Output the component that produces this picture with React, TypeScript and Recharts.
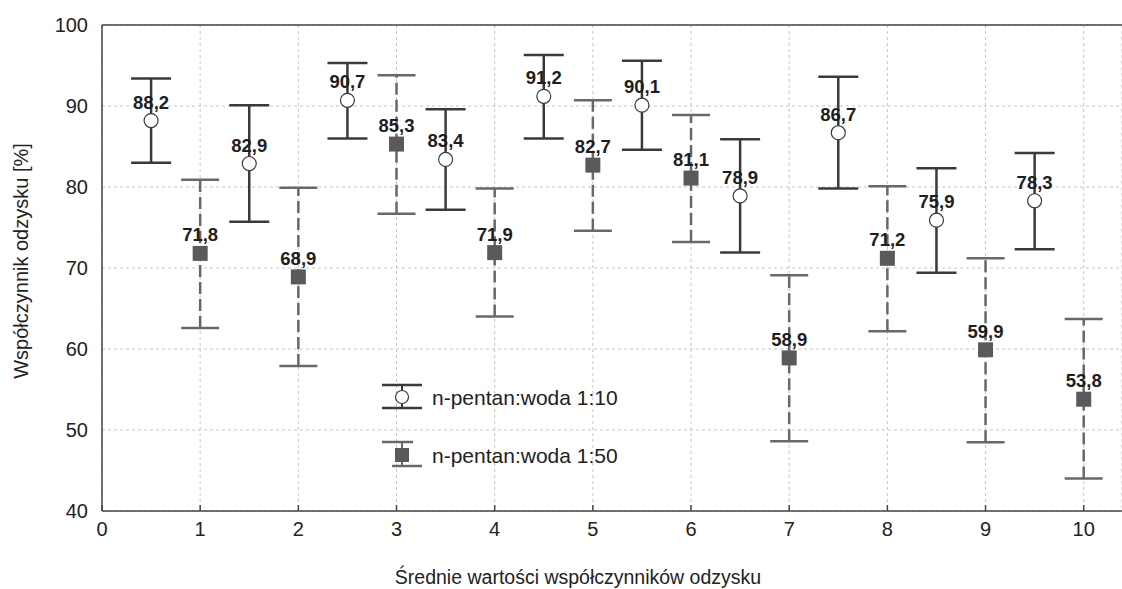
import React from 'react';
import {
  ScatterChart, Scatter, XAxis, YAxis, CartesianGrid, ErrorBar, ReferenceLine, Legend, Label,
} from 'recharts';

// tick labels
const xTicks = [0, 1, 2, 3, 4, 5, 6, 7, 8, 9, 10];
const yTicks = [40, 50, 60, 70, 80, 90, 100];

// n-pentan:woda 1:10 (open circles)
const r10X = [0.5, 1.5, 2.5, 3.5, 4.5, 5.5, 6.5, 7.5, 8.5, 9.5];
const r10Mean = [88.2, 82.9, 90.7, 83.4, 91.2, 90.1, 78.9, 86.7, 75.9, 78.3];
const r10Low = [83.0, 75.7, 86.0, 77.2, 86.0, 84.6, 71.9, 79.8, 69.4, 72.3];
const r10High = [93.4, 90.1, 95.3, 89.6, 96.3, 95.6, 85.9, 93.6, 82.3, 84.2];

// n-pentan:woda 1:50 (filled squares)
const r50X = [1, 2, 3, 4, 5, 6, 7, 8, 9, 10];
const r50Mean = [71.8, 68.9, 85.3, 71.9, 82.7, 81.1, 58.9, 71.2, 59.9, 53.8];
const r50Low = [62.6, 57.9, 76.7, 64.0, 74.6, 73.2, 48.6, 62.2, 48.5, 44.0];
const r50High = [80.9, 79.9, 93.8, 79.8, 90.7, 88.9, 69.1, 80.1, 71.2, 63.7];

const DARK = '#3a3a3a';
const GREY = '#686868';
const FONT = 'Arial, "Liberation Sans", sans-serif';

const r10Data = r10X.map((x, i) => ({
  x, y: r10Mean[i], err: [r10Mean[i] - r10Low[i], r10High[i] - r10Mean[i]],
}));
const r50Data = r50X.map((x, i) => ({
  x, y: r50Mean[i], err: [r50Mean[i] - r50Low[i], r50High[i] - r50Mean[i]],
}));
const r50Caps = r50X.flatMap((x, i) => [{ x, y: r50Low[i] }, { x, y: r50High[i] }]);

const fmt = (v: number) => v.toFixed(1).replace('.', ',');

const ValueLabel = ({ cx, cy, v }: any) => (
  <text x={cx} y={cy - 12} textAnchor="middle" fontFamily={FONT} fontSize={18.5}
    fontWeight="bold" fill="#1e1e1e">{fmt(v)}</text>
);

const CircleShape = (p: any) => (
  <g>
    <circle cx={p.cx} cy={p.cy} r={7} fill="#fff" stroke={DARK} strokeWidth={1.2} />
    <ValueLabel cx={p.cx} cy={p.cy} v={p.payload.y} />
  </g>
);

const SquareShape = (p: any) => (
  <g>
    <rect x={p.cx - 7.5} y={p.cy - 7.5} width={15} height={15} fill="#5a5a5a" />
    <ValueLabel cx={p.cx} cy={p.cy} v={p.payload.y} />
  </g>
);

const CapShape = (p: any) => (
  <line x1={p.cx - 19} x2={p.cx + 19} y1={p.cy} y2={p.cy} stroke={GREY} strokeWidth={2.5} />
);

const Empty = () => <g />;

const LegendBox = () => (
  <svg width={300} height={100} style={{ overflow: 'visible' }}>
    <line x1={4} x2={44} y1={7} y2={7} stroke={DARK} strokeWidth={2.5} />
    <line x1={4} x2={44} y1={30} y2={30} stroke={DARK} strokeWidth={2.5} />
    <line x1={24} x2={24} y1={7} y2={30} stroke={DARK} strokeWidth={2} />
    <circle cx={24} cy={19} r={6.5} fill="#fff" stroke={DARK} strokeWidth={1.2} />
    <text x={54} y={19} dominantBaseline="central" fontFamily={FONT} fontSize={21} fill="#222">n-pentan:woda 1:10</text>
    <line x1={4} x2={35} y1={64} y2={64} stroke={GREY} strokeWidth={2.5} />
    <line x1={14} x2={44} y1={88} y2={88} stroke={GREY} strokeWidth={2.5} />
    <line x1={24} x2={24} y1={64} y2={88} stroke={GREY} strokeWidth={2} />
    <rect x={17} y={70} width={14} height={14} fill="#5a5a5a" />
    <text x={54} y={77} dominantBaseline="central" fontFamily={FONT} fontSize={21} fill="#222">n-pentan:woda 1:50</text>
  </svg>
);

export default function App() {
  return (
    <div style={{ position: 'absolute', left: 0, top: 0, width: 1122, height: 589, overflow: 'hidden', background: '#fff' }}>
      <ScatterChart width={1122} height={589} margin={{ top: 25, right: 0, bottom: 0, left: 0 }}>
        <CartesianGrid strokeDasharray="3 3" stroke="#c6c6c6" />
        <XAxis
          type="number" dataKey="x" domain={[0, 10.39]} ticks={xTicks} allowDataOverflow
          height={78} tickSize={-6} tickMargin={17}
          axisLine={{ stroke: '#444', strokeWidth: 1.5 }} tickLine={{ stroke: '#444', strokeWidth: 1.5 }}
          tick={{ fontSize: 20, fill: '#222', fontFamily: FONT }}
        >
          <Label
            content={({ viewBox }: any) => (
              <text x={viewBox.x + 476} y={viewBox.y + 66} textAnchor="middle" dominantBaseline="central"
                fontFamily={FONT} fontSize={19.5} fill="#222">Średnie wartości współczynników odzysku</text>
            )}
          />
        </XAxis>
        <YAxis
          type="number" dataKey="y" domain={[40, 100]} ticks={yTicks} allowDataOverflow
          width={102} tickSize={0} tickMargin={14}
          axisLine={{ stroke: '#444', strokeWidth: 1.5 }}
          tick={{ fontSize: 20, fill: '#222', fontFamily: FONT }}
        >
          <Label
            content={({ viewBox }: any) => {
              const cx = viewBox.x + 21;
              const cy = viewBox.y + viewBox.height / 2 - 7;
              return (
                <text x={cx} y={cy} transform={`rotate(-90 ${cx} ${cy})`} textAnchor="middle"
                  dominantBaseline="central" fontFamily={FONT} fontSize={20} fill="#222">
                  Współczynnik odzysku [%]
                </text>
              );
            }}
          />
        </YAxis>
        <ReferenceLine y={100} stroke="#444" strokeWidth={1.5} />

        <Scatter data={r50Caps} shape={CapShape} isAnimationActive={false} legendType="none" />
        <Scatter data={r50Data} shape={Empty} isAnimationActive={false} legendType="none">
          <ErrorBar dataKey="err" direction="y" width={0} stroke={GREY} strokeWidth={2.5}
            strokeDasharray="12 5" isAnimationActive={false} />
        </Scatter>
        <Scatter data={r10Data} shape={Empty} isAnimationActive={false} legendType="none">
          <ErrorBar dataKey="err" direction="y" width={20} stroke={DARK} strokeWidth={2.5}
            isAnimationActive={false} />
        </Scatter>
        <Scatter name="n-pentan:woda 1:50" data={r50Data} shape={SquareShape} isAnimationActive={false} />
        <Scatter name="n-pentan:woda 1:10" data={r10Data} shape={CircleShape} isAnimationActive={false} />

        <Legend
          layout="horizontal" verticalAlign="middle" align="center"
          content={() => <LegendBox />}
          wrapperStyle={{ left: 378, top: 378, width: 300, height: 100 }}
        />
      </ScatterChart>
    </div>
  );
}
